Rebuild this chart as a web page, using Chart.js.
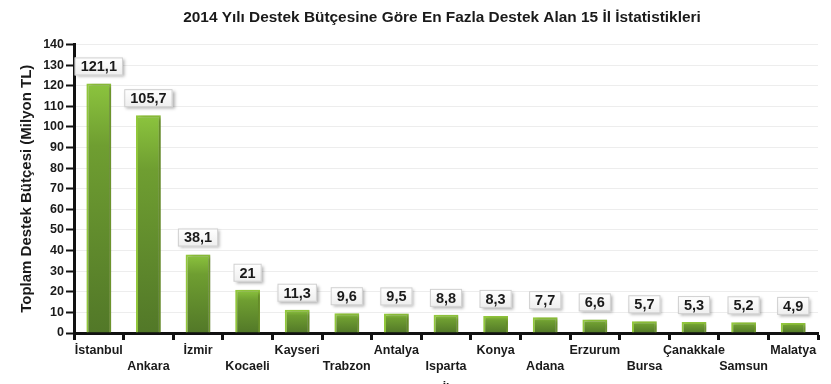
<!DOCTYPE html>
<html>
<head>
<meta charset="utf-8">
<script src="https://cdn.jsdelivr.net/npm/chart.js@4"></script>
<style>
html,body{margin:0;padding:0;background:#fff;overflow:hidden;}
#wrap{width:831px;height:396px;position:relative;}
</style>
</head>
<body>
<div id="wrap"><canvas id="c" width="831" height="396"></canvas></div>
<script>
const categories = ["İstanbul","Ankara","İzmir","Kocaeli","Kayseri","Trabzon","Antalya","Isparta","Konya","Adana","Erzurum","Bursa","Çanakkale","Samsun","Malatya"];
const values = [121.1,105.7,38.1,21,11.3,9.6,9.5,8.8,8.3,7.7,6.6,5.7,5.3,5.2,4.9];
const valueLabels = ["121,1","105,7","38,1","21","11,3","9,6","9,5","8,8","8,3","7,7","6,6","5,7","5,3","5,2","4,9"];
const chartTitle = "2014 Yılı Destek Bütçesine Göre En Fazla Destek Alan 15 İl İstatistikleri";
const yTitle = "Toplam Destek Bütçesi (Milyon TL)";
const xTitle = "İl";

const FONT = "'Liberation Sans', Arial, sans-serif";
const PLOT_TOP = 44, PLOT_BOTTOM = 333, PLOT_LEFT = 74, PLOT_RIGHT = 818;
const H = 396;

const titleShift = {
  id: 'titleShift',
  afterLayout(chart) {
    const tb = chart.titleBlock;
    if (tb) { tb.left += 33; tb.right += 33; }
  }
};

const shadowPlugin = {
  id: 'barShadow',
  beforeDatasetDraw(chart) {
    const ctx = chart.ctx;
    ctx.save();
    ctx.shadowColor = 'rgba(0,0,0,0.35)';
    ctx.shadowBlur = 4;
    ctx.shadowOffsetX = 3;
    ctx.shadowOffsetY = 1;
  },
  afterDatasetDraw(chart) { chart.ctx.restore(); }
};

const labelPlugin = {
  id: 'valueBoxes',
  afterDatasetsDraw(chart) {
    const ctx = chart.ctx;
    const meta = chart.getDatasetMeta(0);
    ctx.save();
    ctx.font = "bold 14.5px " + FONT;
    ctx.textAlign = 'center';
    ctx.textBaseline = 'middle';
    meta.data.forEach((bar, i) => {
      const txt = valueLabels[i];
      const tw = ctx.measureText(txt).width;
      const w = tw + 12, h = 18;
      const x = bar.x - w / 2;
      const y = bar.y - 8 - h;
      ctx.save();
      ctx.shadowColor = 'rgba(0,0,0,0.3)';
      ctx.shadowBlur = 3;
      ctx.shadowOffsetX = 2;
      ctx.shadowOffsetY = 2;
      const g = ctx.createLinearGradient(0, y, 0, y + h);
      g.addColorStop(0, '#ffffff');
      g.addColorStop(1, '#eeeeee');
      ctx.fillStyle = g;
      ctx.fillRect(x, y, w, h);
      ctx.restore();
      ctx.strokeStyle = '#d0d0d0';
      ctx.lineWidth = 1;
      ctx.strokeRect(x + 0.5, y + 0.5, w - 1, h - 1);
      ctx.fillStyle = '#1a1a1a';
      ctx.fillText(txt, bar.x, y + h / 2 + 1);
    });
    ctx.restore();
  }
};

const ctx = document.getElementById('c').getContext('2d');
new Chart(ctx, {
  type: 'bar',
  data: {
    labels: categories,
    datasets: [{
      data: values,
      backgroundColor(c) {
        const chart = c.chart;
        const ys = chart.scales.y;
        if (!ys || c.parsed == null) return '#7aae36';
        const top = ys.getPixelForValue(c.parsed.y);
        const bot = ys.getPixelForValue(0);
        if (!isFinite(top) || !isFinite(bot) || bot - top < 1) return '#7aae36';
        const g = chart.ctx.createLinearGradient(0, top, 0, bot);
        g.addColorStop(0, '#8cc43e');
        g.addColorStop(0.25, '#6f9e31');
        g.addColorStop(1, '#527828');
        return g;
      },
      borderColor: '#93c93c',
      borderWidth: 2,
      barPercentage: 0.5,
      categoryPercentage: 1
    }]
  },
  plugins: [titleShift, shadowPlugin, labelPlugin],
  options: {
    responsive: false,
    animation: false,
    layout: { padding: { left: 0, right: 831 - PLOT_RIGHT, top: 0, bottom: 0 } },
    plugins: {
      legend: { display: false },
      tooltip: { enabled: false },
      title: {
        display: true,
        text: chartTitle,
        color: '#1a1a1a',
        font: { family: FONT, size: 15.4, weight: 'bold' },
        padding: { top: 9, bottom: 17 }
      }
    },
    scales: {
      x: {
        afterFit(s) { s.height = H - PLOT_BOTTOM; },
        border: { display: true, color: '#111', width: 3 },
        grid: { display: true, drawOnChartArea: false, drawTicks: true, tickLength: 7, tickColor: '#111', tickWidth: 3, offset: true },
        ticks: {
          autoSkip: false, maxRotation: 0, minRotation: 0, padding: 2,
          color: '#1a1a1a',
          font: { family: FONT, size: 12.5, weight: 'bold', lineHeight: 1.3 },
          callback(v, i) { return i % 2 === 0 ? categories[i] : ['', categories[i]]; }
        },
        title: {
          display: true, text: xTitle, color: '#1a1a1a',
          font: { family: FONT, size: 12, weight: 'bold' },
          padding: { top: 0, bottom: 0 }
        }
      },
      y: {
        min: 0, max: 140,
        afterFit(s) { s.width = PLOT_LEFT; },
        border: { display: true, color: '#111', width: 3 },
        grid: {
          color(c) { return c.tick && c.tick.value === 0 ? 'rgba(0,0,0,0)' : '#ededed'; },
          lineWidth: 1,
          drawTicks: true,
          tickLength: 8,
          tickWidth: 2,
          tickColor(c) { return c.tick && c.tick.value % 10 === 0 ? '#111' : 'rgba(0,0,0,0)'; }
        },
        ticks: {
          stepSize: 5, padding: 2, color: '#1a1a1a',
          font: { family: FONT, size: 12.5, weight: 'bold' },
          callback(v) { return v % 10 === 0 ? String(v) : ''; }
        },
        title: {
          display: true, text: yTitle, color: '#1a1a1a',
          font: { family: FONT, size: 15, weight: 'bold' },
          padding: { top: 18, bottom: 0 }
        }
      }
    }
  }
});
</script>
</body>
</html>
